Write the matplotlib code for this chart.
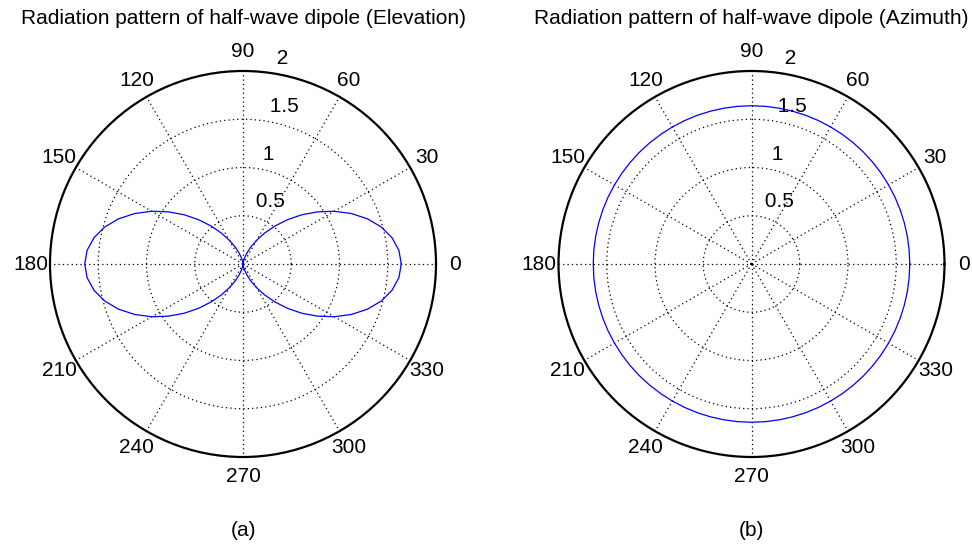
import numpy as np
import matplotlib
matplotlib.use("Agg")
import matplotlib.pyplot as plt

plt.rcParams['font.family'] = ['Liberation Sans', 'DejaVu Sans']

# angles in degrees (5-degree steps, full turn, closed)
angles_deg = list(range(0, 365, 5))

# Elevation pattern (power pattern)
elev_r = [1.640, 1.622, 1.568, 1.483, 1.371, 1.238, 1.093, 0.942, 0.793, 0.648,
          0.512, 0.391, 0.286, 0.198, 0.125, 0.070, 0.031, 0.008, 0.000,
          0.008, 0.031, 0.070, 0.125, 0.198, 0.286, 0.391, 0.512, 0.648,
          0.793, 0.942, 1.093, 1.238, 1.371, 1.483, 1.568, 1.622, 1.640,
          1.622, 1.568, 1.483, 1.371, 1.238, 1.093, 0.942, 0.793, 0.648,
          0.512, 0.391, 0.286, 0.198, 0.125, 0.070, 0.031, 0.008, 0.000,
          0.008, 0.031, 0.070, 0.125, 0.198, 0.286, 0.391, 0.512, 0.648,
          0.793, 0.942, 1.093, 1.238, 1.371, 1.483, 1.568, 1.622, 1.640]

# Azimuth pattern (constant)
azim_r = [1.64] * len(angles_deg)

theta_ticks = [0, 30, 60, 90, 120, 150, 180, 210, 240, 270, 300, 330]
r_ticks = [0.5, 1.0, 1.5, 2.0]
r_tick_labels = ['0.5', '1', '1.5', '2']
r_max = 2.0

titles = ['Radiation pattern of half-wave dipole (Elevation)',
          'Radiation pattern of half-wave dipole (Azimuth)']
sublabels = ['(a)', '(b)']
series = [elev_r, azim_r]

W, H = 972, 544
fig = plt.figure(figsize=(W / 100, H / 100), dpi=100)

centers_px = [(243, 264), (751.5, 264)]
rad_px = 193
FS = 15

for i in range(2):
    cx, cy = centers_px[i]
    ax = fig.add_axes([(cx - rad_px) / W, (H - cy - rad_px) / H,
                       2 * rad_px / W, 2 * rad_px / H], projection='polar')
    ax.set_ylim(0, r_max)
    ax.set_rticks(r_ticks[:-1])
    ax.set_yticklabels([])
    ax.set_thetagrids(theta_ticks, labels=[''] * len(theta_ticks))
    ax.grid(True, linestyle=(0, (1, 2.5)), color='k', linewidth=0.9)
    ax.spines['polar'].set_linewidth(1.6)
    ax.spines['polar'].set_color('k')
    ax.tick_params(pad=0)
    th = np.deg2rad(angles_deg)
    ax.plot(th, series[i], color='#0000ff', linewidth=0.9)
    for a in theta_ticks:
        ax.text(np.deg2rad(a), 1.1 * r_max, str(a), ha='center', va='center',
                fontsize=FS)
    for r, lbl in zip(r_ticks, r_tick_labels):
        ax.text(np.deg2rad(82), r + 0.025 * r_max, ' ' + lbl, ha='left',
                va='bottom', fontsize=FS)
    fig.text(cx / W, 1 - 19 / H, titles[i], ha='center', va='center', fontsize=FS)
    fig.text(cx / W, 1 - 530 / H, sublabels[i], ha='center', va='center', fontsize=FS)

fig.savefig('out.png', dpi=100)
